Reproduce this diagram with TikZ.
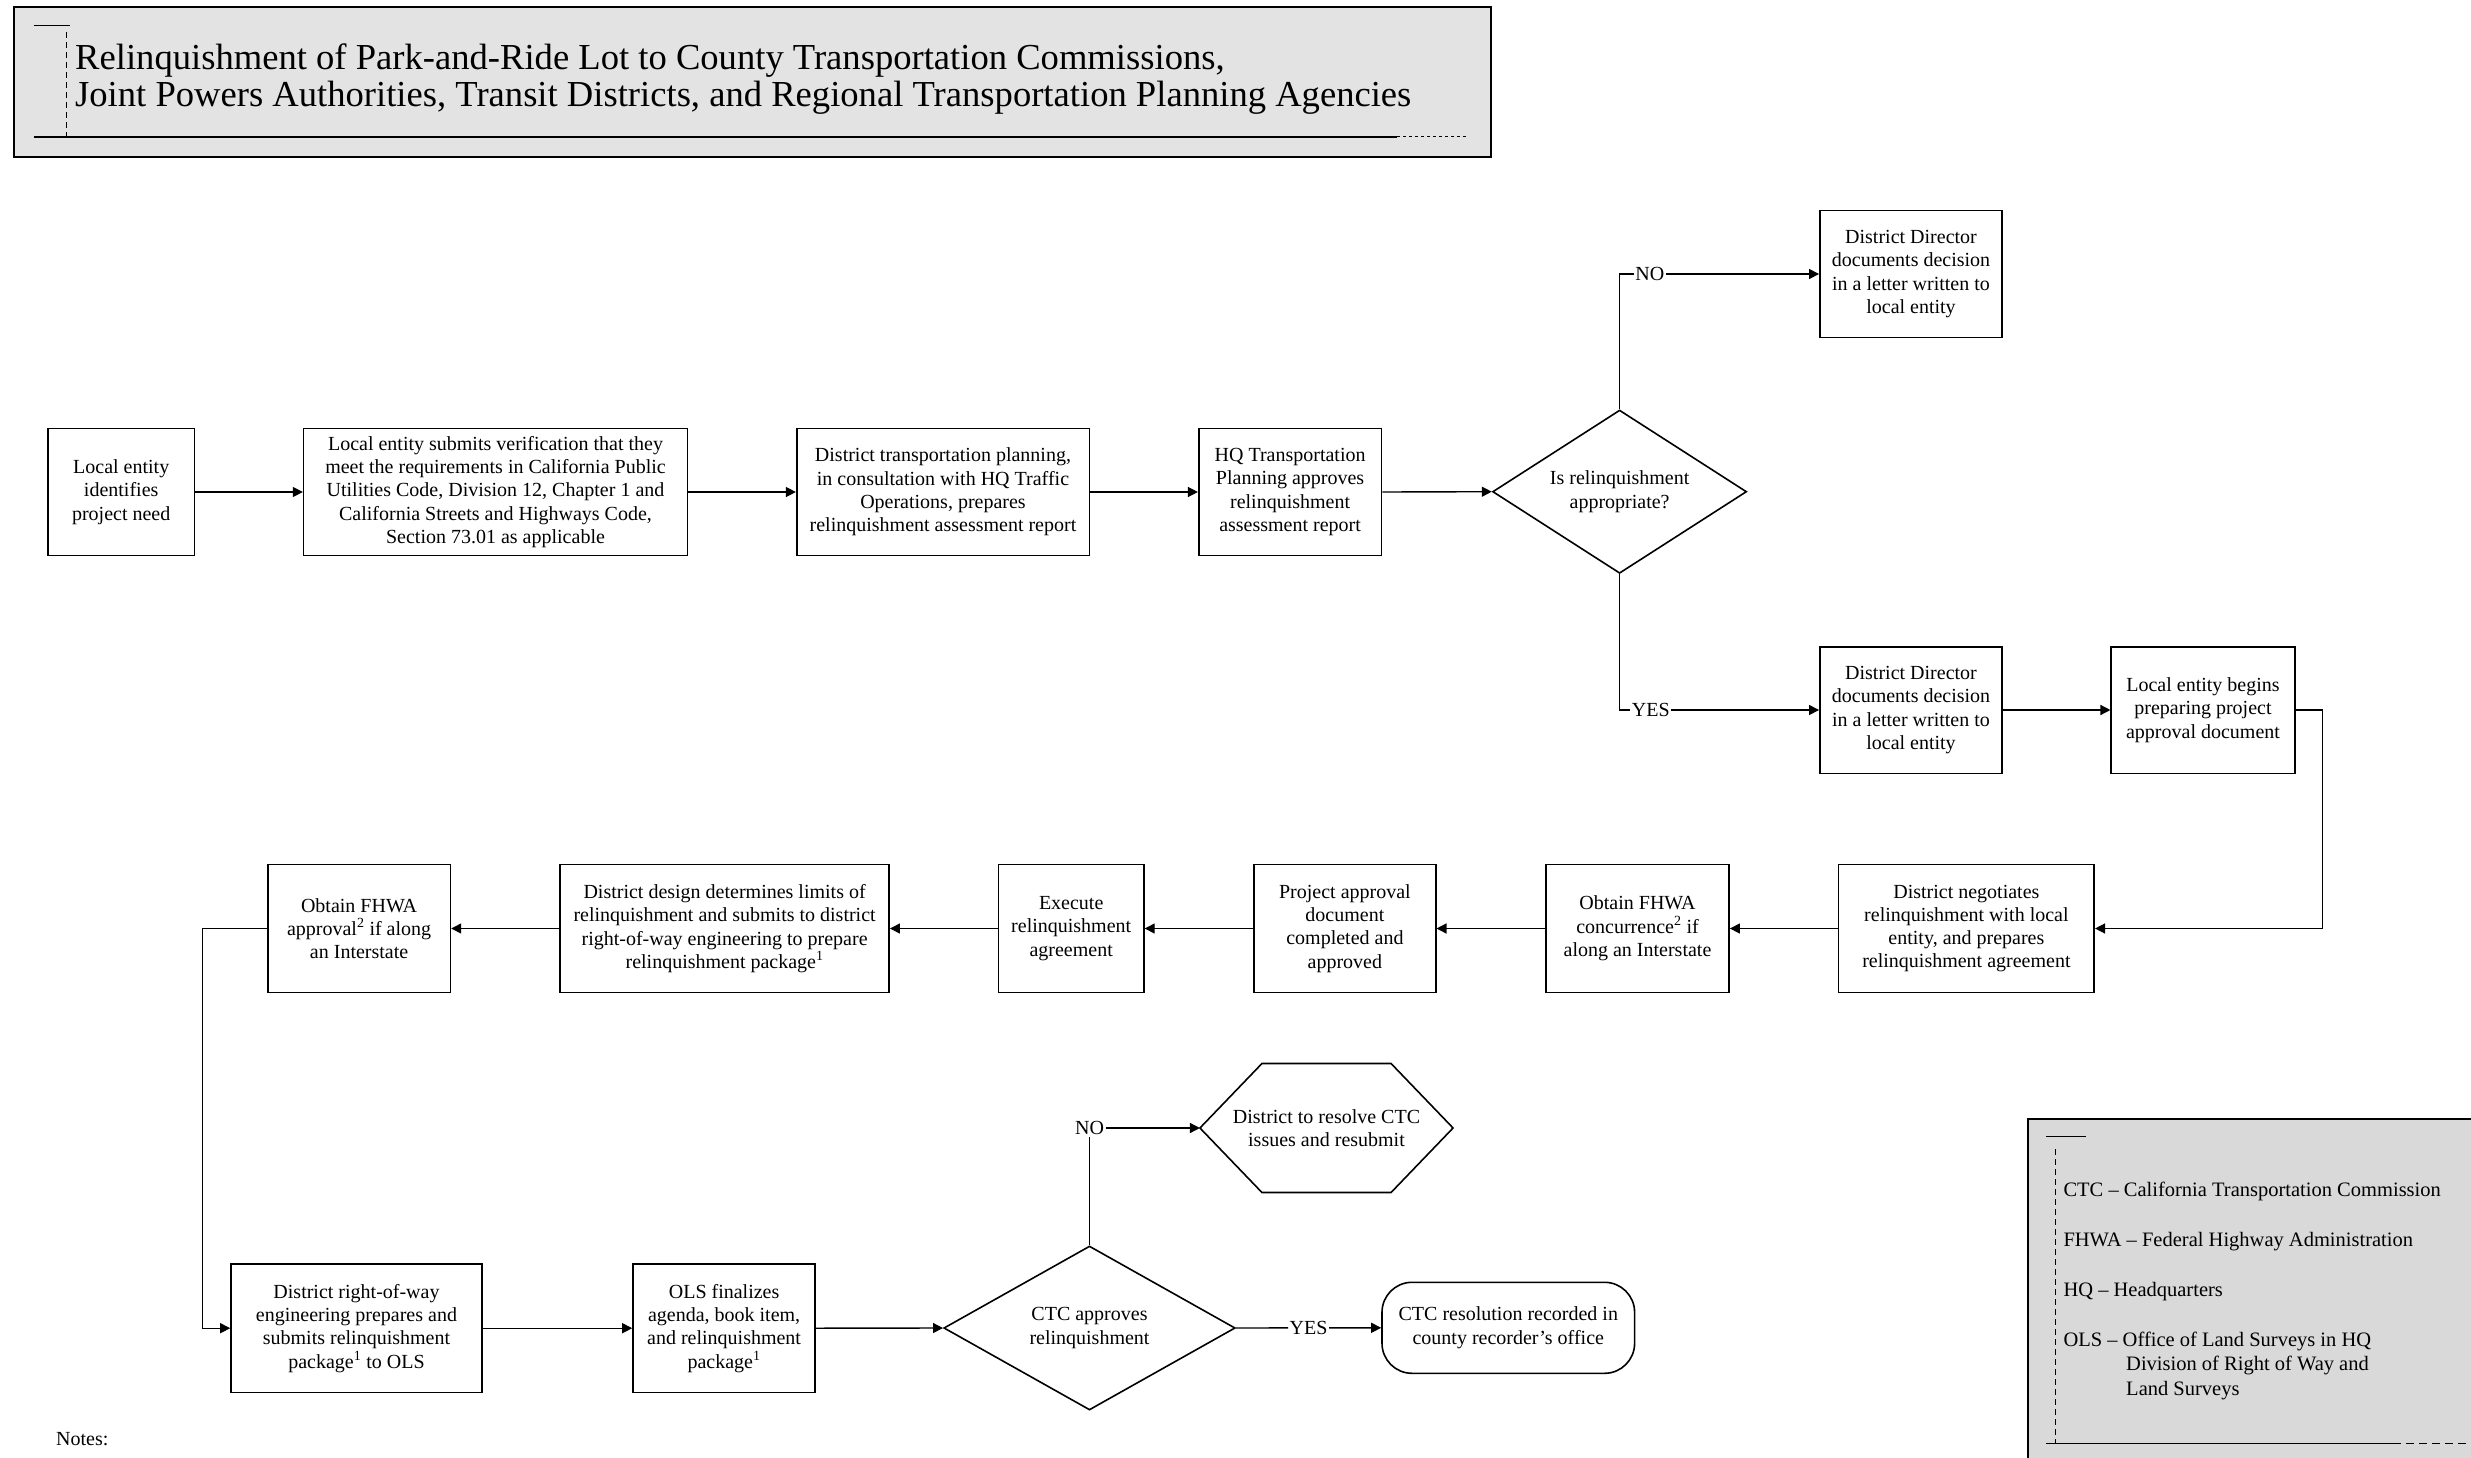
\documentclass[tikz,border=0pt]{standalone}
\usepackage{fontspec}
\setmainfont{Liberation Serif}
\usetikzlibrary{arrows.meta,shapes.geometric,calc}
\begin{document}
\begin{tikzpicture}[x=1pt,y=-1pt,
  box/.style={draw, line width=1.6pt, fill=white, align=center, inner sep=0pt, font=\fontsize{20}{23.3}\selectfont},
  dec/.style={draw, shape=diamond, line width=1.6pt, fill=white, align=center, inner sep=0pt, font=\fontsize{20}{23.3}\selectfont},
  arr/.style={line width=1.4pt, -{Triangle[length=10pt,width=10pt]}},
  lnk/.style={line width=1.4pt},
  lbl/.style={fill=white, inner sep=1.5pt, font=\fontsize{20}{23.3}\selectfont},
  ttl/.style={anchor=base west, inner sep=0pt, font=\fontsize{36.6}{38}\selectfont},
  leg/.style={anchor=base west, inner sep=0pt, font=\fontsize{20.5}{24}\selectfont},
  dsh/.style={line width=1pt, dash pattern=on 6pt off 4pt},
]
\useasboundingbox (0,0) rectangle (2471,1458);
\clip (0,0) rectangle (2471,1458);
\fill[white] (0,0) rectangle (2471,1458);

% title block
\node[draw, line width=2pt, fill=gray!22, minimum width=1477pt, minimum height=150pt, inner sep=0pt] (title) at (752.5,82) {};
\draw[line width=1.5pt] (33.5,25.7) -- (70,25.7);
\draw[dsh] (66,32) -- (66,137);
\draw[line width=1.5pt] (33.5,137) -- (1397,137);
\draw[line width=1pt, dash pattern=on 3pt off 3pt] (1397,137) -- (1467,137);
\node[ttl] (t1) at (75,70) {Relinquishment of Park-and-Ride Lot to County Transportation Commissions,};
\node[ttl] (t2) at (75,107) {Joint Powers Authorities, Transit Districts, and Regional Transportation Planning Agencies};

% row 1
\node[box, minimum width=146.5pt, minimum height=127pt] (b1) at (121.2,492) {Local entity\\identifies\\project need};
\node[box, minimum width=383.7pt, minimum height=127pt] (b2) at (495.5,492) {Local entity submits verification that they\\meet the requirements in California Public\\Utilities Code, Division 12, Chapter 1 and\\California Streets and Highways Code,\\Section 73.01 as applicable};
\node[box, minimum width=292.6pt, minimum height=127pt] (b3) at (943,492) {District transportation planning,\\in consultation with HQ Traffic\\Operations, prepares\\relinquishment assessment report};
\node[box, minimum width=182.8pt, minimum height=127pt] (b4) at (1290.1,492) {HQ Transportation\\Planning approves\\relinquishment\\assessment report};
\node[dec, aspect=1.55, minimum width=254pt, minimum height=163.3pt] (d1) at (1619.6,491.7) {Is relinquishment\\appropriate?};
\node[box, minimum width=182.3pt, minimum height=126.6pt] (b5) at (1911,274) {District Director\\documents decision\\in a letter written to\\local entity};
\node[box, minimum width=182.3pt, minimum height=126.6pt] (b6) at (1911,710) {District Director\\documents decision\\in a letter written to\\local entity};
\node[box, minimum width=183.5pt, minimum height=126.6pt] (b7) at (2203,710) {Local entity begins\\preparing project\\approval document};

% row 3
\node[box, minimum width=255.7pt, minimum height=128pt] (b8) at (1966.4,928.5) {District negotiates\\relinquishment with local\\entity, and prepares\\relinquishment agreement};
\node[box, minimum width=183.2pt, minimum height=128pt] (b9) at (1637.5,928.5) {Obtain FHWA\\concurrence\textsuperscript{2} if\\along an Interstate};
\node[box, minimum width=181.6pt, minimum height=128pt] (b10) at (1344.9,928.5) {Project approval\\document\\completed and\\approved};
\node[box, minimum width=145.4pt, minimum height=128pt] (b11) at (1071.2,928.5) {Execute\\relinquishment\\agreement};
\node[box, minimum width=329.1pt, minimum height=128pt] (b12) at (724.6,928.5) {District design determines limits of\\relinquishment and submits to district\\right-of-way engineering to prepare\\relinquishment package\textsuperscript{1}};
\node[box, minimum width=182.6pt, minimum height=128pt] (b13) at (359.1,928.5) {Obtain FHWA\\approval\textsuperscript{2} if along\\an Interstate};

% row 4
\node[box, minimum width=251pt, minimum height=128.3pt] (b14) at (356.5,1328.2) {District right-of-way\\engineering prepares and\\submits relinquishment\\package\textsuperscript{1} to OLS};
\node[box, minimum width=182.2pt, minimum height=128.3pt] (b15) at (724.1,1328.2) {OLS finalizes\\agenda, book item,\\and relinquishment\\package\textsuperscript{1}};
\node[dec, aspect=1.78, minimum width=291.4pt, minimum height=164pt] (d2) at (1089.5,1328) {CTC approves\\relinquishment};
\node[box, draw=none, fill=none, minimum width=251.5pt, minimum height=127.4pt] (hex) at (1326.5,1128) {District to resolve CTC\\issues and resubmit};
\draw[line width=1.6pt] (hex.west) -- ($(hex.north west)+(62,0)$) -- ($(hex.north east)+(-62,0)$) -- (hex.east) -- ($(hex.south east)+(-62,0)$) -- ($(hex.south west)+(62,0)$) -- cycle;
\node[box, rounded corners=30pt, minimum width=252.6pt, minimum height=91pt] (term) at (1508.3,1327.8) {CTC resolution recorded in\\county recorder’s office};

% connectors
\draw[arr] (b1.east) -- (b2.west);
\draw[arr] (b2.east) -- (b3.west);
\draw[arr] (b3.east) -- (b4.west);
\draw[arr] (b4.east) -- (d1.west);
\draw[arr] (d1.north) |- node[lbl, pos=0.576] (no1) {NO} (b5.west);
\draw[arr] (d1.south) |- node[lbl, pos=0.578] (yes1) {YES} (b6.west);
\draw[arr] (b6.east) -- (b7.west);
\draw[arr] (b7.east) -- ++(27.2,0) |- (b8.east);
\draw[arr] (b8.west) -- (b9.east);
\draw[arr] (b9.west) -- (b10.east);
\draw[arr] (b10.west) -- (b11.east);
\draw[arr] (b11.west) -- (b12.east);
\draw[arr] (b12.west) -- (b13.east);
\draw[arr] (b13.west) -- ++(-64.8,0) |- (b14.west);
\draw[arr] (b14.east) -- (b15.west);
\draw[arr] (b15.east) -- (d2.west);
\node[lbl, fill=none, inner sep=2pt] (no2) at (1089.5,1128) {NO};
\draw[lnk] (d2.north) -- (no2.south);
\draw[arr] (no2.east) -- (hex.west);
\node[lbl, fill=none, inner sep=1.5pt] (yes2) at ($(d2.east)!0.5!(term.west)$) {YES};
\draw[lnk] (d2.east) -- (yes2.west);
\draw[arr] (yes2.east) -- (term.west);

% legend
\node[draw, line width=2pt, fill=gray!30, anchor=north west, minimum width=520pt, minimum height=420pt, inner sep=0pt] (legend) at (2027,1118) {};
\draw[line width=1.5pt] (2046,1136.7) -- (2085.7,1136.7);
\draw[dsh] (2055,1149) -- (2055,1443);
\draw[line width=1.5pt] (2046,1443.3) -- (2393,1443.3);
\draw[line width=1pt, dash pattern=on 8pt off 5pt] (2393,1443.3) -- (2471,1443.3);
\node[leg] (l1) at (2063.3,1196.7) {CTC – California Transportation Commission};
\node[leg] (l2) at (2063.3,1246.7) {FHWA – Federal Highway Administration};
\node[leg] (l3) at (2063.3,1296.7) {HQ – Headquarters};
\node[leg] (l4) at (2063.3,1346.7) {OLS – Office of Land Surveys in HQ};
\node[leg] (l5) at (2126,1370.7) {Division of Right of Way and};
\node[leg] (l6) at (2126,1395) {Land Surveys};

% notes
\node[anchor=base west, inner sep=0pt, font=\fontsize{20}{23.3}\selectfont] (notes) at (56,1445) {Notes:};
\end{tikzpicture}
\end{document}
